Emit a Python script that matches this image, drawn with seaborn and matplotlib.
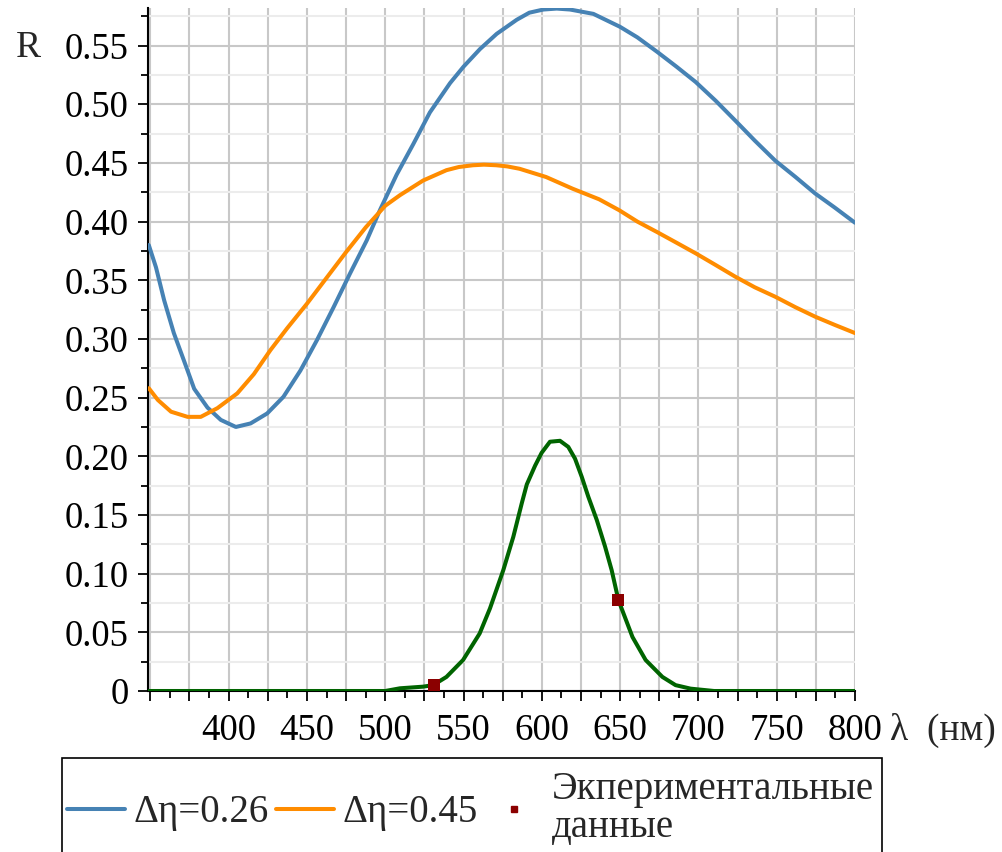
import numpy as np
import pandas as pd
import matplotlib
matplotlib.use("Agg")
import matplotlib.pyplot as plt
import seaborn as sns
from matplotlib.ticker import MultipleLocator, FixedLocator, FuncFormatter
from matplotlib.lines import Line2D
from matplotlib.patches import Rectangle

# reflectance curve, delta eta = 0.26
lam_026 = [349, 353.6, 358.8, 365, 371.6, 378, 386.5, 395, 404.6, 414, 424.6, 435,
           445.8, 456.4, 467, 477.6, 488.2, 496.7, 507.3, 517.9, 528.5, 541.4, 550,
           560.5, 571.2, 584, 592, 601, 609.5, 618, 632.9, 649.9, 661, 673.7, 686, 698.2,
           711, 723.6, 736, 749, 762, 774.5, 787, 800]
r_026 = [0.380, 0.361, 0.333, 0.305, 0.281, 0.2575, 0.2415, 0.231, 0.225, 0.228, 0.2365, 0.2507,
         0.273, 0.299, 0.327, 0.356, 0.384, 0.410, 0.440, 0.466, 0.493, 0.518, 0.532,
         0.547, 0.560, 0.572, 0.578, 0.5807, 0.5815, 0.5807, 0.577, 0.566, 0.557, 0.5446, 0.532, 0.519,
         0.503, 0.486, 0.469, 0.452, 0.438, 0.424, 0.412, 0.399]

# reflectance curve, delta eta = 0.45
lam_045 = [349, 354.8, 363.2, 373.8, 382.2, 392.8, 405.5, 416.1, 426.7, 437.3, 450, 462.5,
           475, 487.5, 500, 509.4, 524.2, 539.1, 547, 556, 563, 570.9, 578, 585.8,
           602.7, 619.7, 636.6, 649.4, 661, 673.7, 686, 698.2, 711, 723.6, 736, 749, 762,
           774.5, 787, 800]
r_045 = [0.258, 0.248, 0.238, 0.2336, 0.2336, 0.241, 0.2536, 0.270, 0.2905, 0.309, 0.330, 0.352,
         0.374, 0.395, 0.4135, 0.4225, 0.435, 0.4438, 0.4465, 0.448, 0.4485, 0.448, 0.447,
         0.445, 0.438, 0.428, 0.419, 0.4097, 0.400, 0.391, 0.382, 0.373, 0.363, 0.353, 0.344,
         0.336, 0.327, 0.319, 0.312, 0.305]

# green fitted peak
lam_fit = [349, 500, 509.4, 524.2, 530.6, 539.1, 549.7, 560.3, 566.9, 575.4, 581.8, 587.2,
           590.4, 595.7, 599.9, 605.2, 611.6, 616.9, 621.2, 625.5, 629.7, 635.1, 640.4,
           644.6, 648.9, 657.9, 666.3, 677, 685.4, 695, 710, 800]
r_fit = [0, 0, 0.0023, 0.0037, 0.005, 0.012, 0.0264, 0.049, 0.0704, 0.103, 0.1314, 0.160,
         0.176, 0.192, 0.203, 0.2124, 0.2132, 0.208, 0.198, 0.1825, 0.1655, 0.1457, 0.123,
         0.103, 0.0775, 0.046, 0.0264, 0.012, 0.005, 0.002, 0.0, 0.0]

# experimental points
lam_exp = [531, 648.9]
r_exp = [0.005, 0.0775]

label_026 = "Δη=0.26"
label_045 = "Δη=0.45"
label_exp = "Экпериментальные\nданные"

C_BLUE = "#4682b4"
C_ORANGE = "#ff8c00"
C_GREEN = "#006400"
C_RED = "#8b0000"

sns.set_theme(style="white")
plt.rcParams["font.family"] = ["Liberation Serif", "DejaVu Serif"]
FS = 26.5
FS_TXT = 27
FS_LEG = 28

W, H = 1002, 852
fig = plt.figure(figsize=(W / 100, H / 100), dpi=100)
ax = fig.add_axes([148 / W, 1 - 691 / H, (855 - 148) / W, (691 - 8) / H])

df_026 = pd.DataFrame({"lam": lam_026, "R": r_026})
df_045 = pd.DataFrame({"lam": lam_045, "R": r_045})
df_fit = pd.DataFrame({"lam": lam_fit, "R": r_fit})
df_exp = pd.DataFrame({"lam": lam_exp, "R": r_exp})

LW = 2.9
sns.lineplot(data=df_026, x="lam", y="R", ax=ax, color=C_BLUE, lw=LW, sort=False, zorder=3)
sns.lineplot(data=df_045, x="lam", y="R", ax=ax, color=C_ORANGE, lw=LW, sort=False, zorder=3)
sns.lineplot(data=df_fit, x="lam", y="R", ax=ax, color=C_GREEN, lw=LW, sort=False, zorder=3)
sns.scatterplot(data=df_exp, x="lam", y="R", ax=ax, color=C_RED, marker="s", s=70,
                edgecolor=C_RED, linewidth=0, zorder=4)
for ln in ax.lines:
    ln.set_solid_joinstyle("round")
    ln.set_solid_capstyle("round")

ax.set_xlim(348.5, 800)
ax.set_ylim(0, 0.582)
ax.set_xlabel("")
ax.set_ylabel("")

xt = np.arange(350, 801, 25)
ax.xaxis.set_major_locator(FixedLocator(xt))
ax.xaxis.set_major_formatter(FuncFormatter(
    lambda v, p: f"{int(round(v))}" if (round(v) % 50 == 0 and v > 375) else ""))
ax.xaxis.set_minor_locator(MultipleLocator(12.5))
ax.yaxis.set_major_locator(MultipleLocator(0.05))
ax.yaxis.set_major_formatter(FuncFormatter(lambda v, p: "0" if abs(v) < 1e-9 else f"{v:.2f}"))
ax.yaxis.set_minor_locator(MultipleLocator(0.025))

ax.grid(which="major", axis="both", color="#c8c8c8", lw=1.5, zorder=0)
ax.grid(which="minor", axis="y", color="#ececec", lw=1.5, zorder=0)
ax.set_axisbelow(True)

for s in ["top", "right"]:
    ax.spines[s].set_visible(False)
for s in ["left", "bottom"]:
    ax.spines[s].set_color("black")
    ax.spines[s].set_linewidth(1.5)

ax.tick_params(which="major", direction="out", length=7, width=1.3, color="black",
               labelsize=FS, labelcolor="black", left=True, bottom=True)
ax.tick_params(which="minor", direction="out", length=5, width=1.3, color="black",
               left=True, bottom=True)
ax.tick_params(axis="y", pad=7)
ax.tick_params(axis="x", pad=9)

fig.text(16 / W, 1 - 57 / H, "R", fontsize=FS_TXT, ha="left", va="baseline")
fig.text(890 / W, 1 - 740 / H, "λ  (нм)", fontsize=FS_TXT, ha="left", va="baseline")

# legend box runs past the bottom edge of the image, so draw the frame by hand
fig.patches.append(Rectangle((62 / W, -0.05), (882 - 62) / W, 0.05 + 1 - 758 / H,
                             transform=fig.transFigure, fill=False, edgecolor="black",
                             lw=1.2, zorder=1))

handles = [
    Line2D([0], [0], color=C_BLUE, lw=LW),
    Line2D([0], [0], color=C_ORANGE, lw=LW),
    Line2D([0], [0], color=C_RED, marker="s", ls="none", markersize=5),
]
leg = fig.legend(handles, [label_026, label_045, label_exp], ncol=3,
                 loc="upper left", bbox_to_anchor=(67 / W, 1 - 771 / H),
                 fontsize=FS_LEG, frameon=False, handlelength=1.5, handletextpad=0.2,
                 columnspacing=0.2, borderpad=0, borderaxespad=0)
for t in leg.get_texts():
    t.set_linespacing(1.03)

fig.savefig("out.png", dpi=100)
